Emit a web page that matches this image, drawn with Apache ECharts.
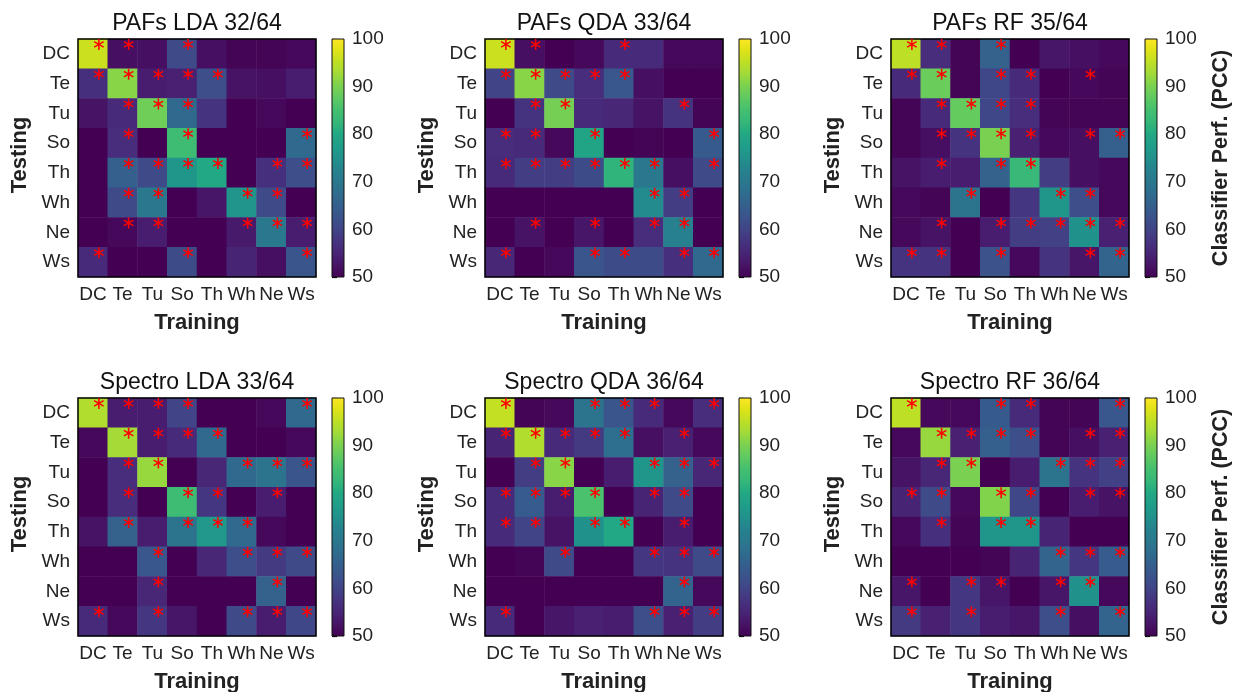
<!DOCTYPE html>
<html>
<head>
<meta charset="utf-8">
<script src="https://cdn.jsdelivr.net/npm/echarts@6/dist/echarts.min.js"></script>
<style>html,body{margin:0;padding:0;background:#fff}#c{width:1233px;height:692px}</style>
</head>
<body>
<div id="c"></div>
<script>
const cats = ['DC','Te','Tu','So','Th','Wh','Ne','Ws'];
const panelTitles = ['PAFs LDA 32/64','PAFs QDA 33/64','PAFs RF 35/64','Spectro LDA 33/64','Spectro QDA 36/64','Spectro RF 36/64'];
const cbMin = 50, cbMax = 100, cbStep = 10;
const xName = 'Training', yName = 'Testing', cbName = 'Classifier Perf. (PCC)';

// rows = Testing (DC..Ws), cols = Training (DC..Ws)
const pafsLDA = [
  [96,52,52,61,52,50.5,50.5,51],
  [57,91,54,54.5,62,52.5,52,54],
  [52.5,56,89,67,57.5,50,51,50],
  [50,56.5,50,84,50,50,50,67],
  [50,65,61,76,80,50,57,62],
  [50,61,70,50,53,75.5,61,50],
  [50,51,54,50,50,53.5,70,54],
  [56,50,50,61.5,50,55,52,63]
];
const pafsLDAStars = [[0,1,3],[0,1,2,3,4],[1,2,3],[1,3,7],[1,2,3,4,6,7],[1,2,5,6],[1,2,5,6,7],[0,3,7]];

const pafsQDA = [
  [96,52,50,51,56,56,51,51],
  [60,91,61,56.5,63.5,52,50,50],
  [50,57.5,89.5,56,55.5,52.5,57.5,50.5],
  [56.5,56,51,79,50,50.5,50,64],
  [56,59,59,61.5,82,70,52,61],
  [50,50,50,50,50,74,59,50],
  [50,52.5,50,53,50,56.5,72,50],
  [55.5,50,51,63,61.5,61.5,57,67]
];
const pafsQDAStars = [[0,1,4],[0,1,2,3,4],[1,2,6],[0,1,3,7],[0,1,2,3,4,5,7],[5,6],[1,3,5,6],[0,3,4,6,7]];

const pafsRF = [
  [95,56.5,50.5,65.5,50,53,52,51],
  [56,88.5,50.5,60.5,56,50,51,50.5],
  [50.5,56,88,60.5,56.5,50.5,50.5,50.5],
  [50.5,52,57.5,90,54.5,51,52,65],
  [52.5,54,54,65.5,83,59,52,51],
  [51,50.5,69,50,58,76,62,51],
  [51,52.5,50,54,59,59.5,75,54.5],
  [57.5,57.5,50,62.5,51,57.5,53,66]
];
const pafsRFStars = [[0,1,3],[0,1,3,4,6],[1,2,3,4],[1,2,3,4,6,7],[1,3,4],[2,5,6],[1,3,4,5,6,7],[0,1,3,6,7]];

const spectroLDA = [
  [94,54,54,60,50,50,51,67],
  [51,93,54,56,67,50,50,51],
  [50,56.5,92,50,55.5,67,69,63],
  [50,56.5,50,84,58,50,54,50],
  [52.5,65.5,54,69,76.5,67,51,50],
  [50,50,63.5,50,55.5,62,58.5,61],
  [50,50,55.5,50,50,50,65.5,50],
  [56,51,58,53,50,61,54,60.5]
];
const spectroLDAStars = [[0,1,2,3,7],[1,2,3,4],[1,2,5,6,7],[1,3,4,6],[1,3,4,5],[2,5,6,7],[2,6],[0,2,5,6,7]];

const spectroQDA = [
  [95.5,50.5,51,69,63,56,51,56.5],
  [55,94,56,58.5,68,52,54.5,51],
  [50,59,91,50,54,76,65.5,55.5],
  [56,64.5,54,85.5,50,55,61,50],
  [56,60,52.5,75,80,50,54,50],
  [50,50.5,61,50,50,58,57.5,61],
  [50,50,50,50,50,50,66,51],
  [56,50,53,54.5,54,62,54.5,59]
];
const spectroQDAStars = [[0,3,4,5,7],[0,1,2,3,4,6],[1,2,5,6,7],[0,1,2,3,5,6],[0,1,3,4,6],[2,5,6,7],[6],[0,5,6,7]];

const spectroRF = [
  [95,51,51,64,56,50.5,50.5,63.5],
  [51,92,54.5,65,62,50.5,52,54.5],
  [52.5,55.5,90,50,54,69,57.5,59.5],
  [55,61,51,90.5,60.5,50,54,52.5],
  [51,57,50.5,76,76,55,50,50],
  [50,50,50,50.5,55,66,58,64.5],
  [53,50,58,53,50,53,75,51],
  [58.5,54.5,58,54,53,62,52,66]
];
const spectroRFStars = [[0,3,4,7],[1,2,3,4,6,7],[1,2,5,6,7],[0,1,3,4,6,7],[1,3,4],[5,6,7],[0,2,3,5,6],[0,2,5,7]];

const panelValues = [pafsLDA, pafsQDA, pafsRF, spectroLDA, spectroQDA, spectroRF];
const panelStars = [pafsLDAStars, pafsQDAStars, pafsRFStars, spectroLDAStars, spectroQDAStars, spectroRFStars];

const viridis = ['#440154','#471365','#482475','#46337f','#414487','#3b528b','#355f8d','#2f6c8e','#2a788e','#26828e',
  '#21918c','#1f9e89','#22a884','#35b779','#44bf70','#5ec962','#7ad151','#9fda3a','#bddf26','#dfe318','#fde725'];

// asterisk symbol path (6 arms)
function asteriskPath(){
  const t = 0.14, parts = [];
  [90, 30, 150].forEach(a => {
    const r = a*Math.PI/180, dx=Math.cos(r), dy=Math.sin(r), nx=-dy, ny=dx;
    const p = [[dx+nx*t, dy+ny*t],[dx-nx*t, dy-ny*t],[-dx-nx*t,-dy-ny*t],[-dx+nx*t,-dy+ny*t]];
    parts.push('M'+p.map(q=>q[0].toFixed(3)+' '+q[1].toFixed(3)).join(' L')+' Z');
  });
  return 'path://' + parts.join(' ');
}
const star = asteriskPath();

const FF = '"Liberation Sans", Arial, sans-serif';
const lefts = [78, 485, 891], tops = [39, 398], W = 238, H = 238;
const grids = [], xAxes = [], yAxes = [], series = [], graphics = [];

panelValues.forEach((vals, i) => {
  const col = i % 3, row = Math.floor(i / 3);
  const L = lefts[col], T = tops[row];
  const g = grids.length;
  grids.push({left: L, top: T, width: W, height: H, show: true, backgroundColor: 'transparent',
    borderColor: '#000', borderWidth: 1.5, z: 5});
  xAxes.push({gridIndex: g, type: 'category', data: cats, z: 5,
    axisLine: {show: false},
    axisTick: {alignWithLabel: true, length: 5, lineStyle: {color: '#000', width: 1.2}},
    axisLabel: {fontSize: 19, color: '#222', margin: 8, interval: 0, fontFamily: FF},
    splitLine: {show: false}});
  yAxes.push({gridIndex: g, type: 'category', data: cats, inverse: true, z: 5,
    axisLine: {show: false},
    axisTick: {alignWithLabel: true, length: 5, lineStyle: {color: '#000', width: 1.2}},
    axisLabel: {fontSize: 19, color: '#222', margin: 8, interval: 0, fontFamily: FF},
    splitLine: {show: false}});
  const hd = [];
  vals.forEach((r, ri) => r.forEach((v, ci) => hd.push([ci, ri, v])));
  series.push({type: 'heatmap', xAxisIndex: g, yAxisIndex: g, data: hd, silent: true,
    itemStyle: {borderWidth: 0}, emphasis: {disabled: true}, z: 2});
  const sd = [];
  panelStars[i].forEach((cs, ri) => cs.forEach(ci => sd.push([ci, ri])));
  series.push({type: 'scatter', xAxisIndex: g, yAxisIndex: g, data: sd, symbol: star, symbolKeepAspect: true,
    symbolSize: 11, symbolOffset: [6, -9.5], itemStyle: {color: '#ff0000', opacity: 1}, silent: true, z: 6});

  // colorbar
  const cg = grids.length;
  grids.push({left: L + W + 16, top: T, width: 12, height: H, show: true,
    backgroundColor: {type: 'linear', x: 0, y: 1, x2: 0, y2: 0,
      colorStops: viridis.map((c, k) => ({offset: k/(viridis.length-1), color: c}))},
    borderColor: '#111', borderWidth: 1, z: 1});
  xAxes.push({gridIndex: cg, type: 'value', show: false, min: 0, max: 1});
  yAxes.push({gridIndex: cg, type: 'value', min: cbMin, max: cbMax, interval: cbStep, position: 'right',
    axisLine: {show: false}, splitLine: {show: false},
    axisTick: {show: true, length: 5, lineStyle: {color: '#000', width: 1.2}},
    axisLabel: {fontSize: 19, color: '#222', margin: 8, fontFamily: FF}});

  // texts
  graphics.push({type: 'text', x: L + W/2, y: T - 15, silent: true,
    style: {text: panelTitles[i], font: '23px ' + FF, fill: '#111', align: 'center', verticalAlign: 'middle',
      textAlign: 'center', textVerticalAlign: 'middle'}});
  graphics.push({type: 'text', x: L + W/2, y: T + H + 46, silent: true,
    style: {text: xName, font: 'bold 22px ' + FF, fill: '#222', align: 'center', verticalAlign: 'middle',
      textAlign: 'center', textVerticalAlign: 'middle'}});
  graphics.push({type: 'text', x: L - 58, y: T + H/2 - 3, rotation: Math.PI/2, silent: true,
    style: {text: yName, font: 'bold 22px ' + FF, fill: '#222', align: 'center', verticalAlign: 'middle',
      textAlign: 'center', textVerticalAlign: 'middle'}});
  if (col === 2) {
    graphics.push({type: 'text', x: 1221, y: T + H/2, rotation: Math.PI/2, silent: true,
      style: {text: cbName, font: 'bold 21.5px ' + FF, fill: '#222', align: 'center', verticalAlign: 'middle',
        textAlign: 'center', textVerticalAlign: 'middle'}});
  }
});

const chart = echarts.init(document.getElementById('c'), null, {renderer: 'canvas'});
chart.setOption({
  backgroundColor: '#fff',
  animation: false,
  grid: grids,
  xAxis: xAxes,
  yAxis: yAxes,
  visualMap: {type: 'continuous', min: cbMin, max: cbMax, show: false,
    seriesIndex: [0, 2, 4, 6, 8, 10], inRange: {color: viridis}},
  series: series,
  graphic: graphics
});
</script>
</body>
</html>
